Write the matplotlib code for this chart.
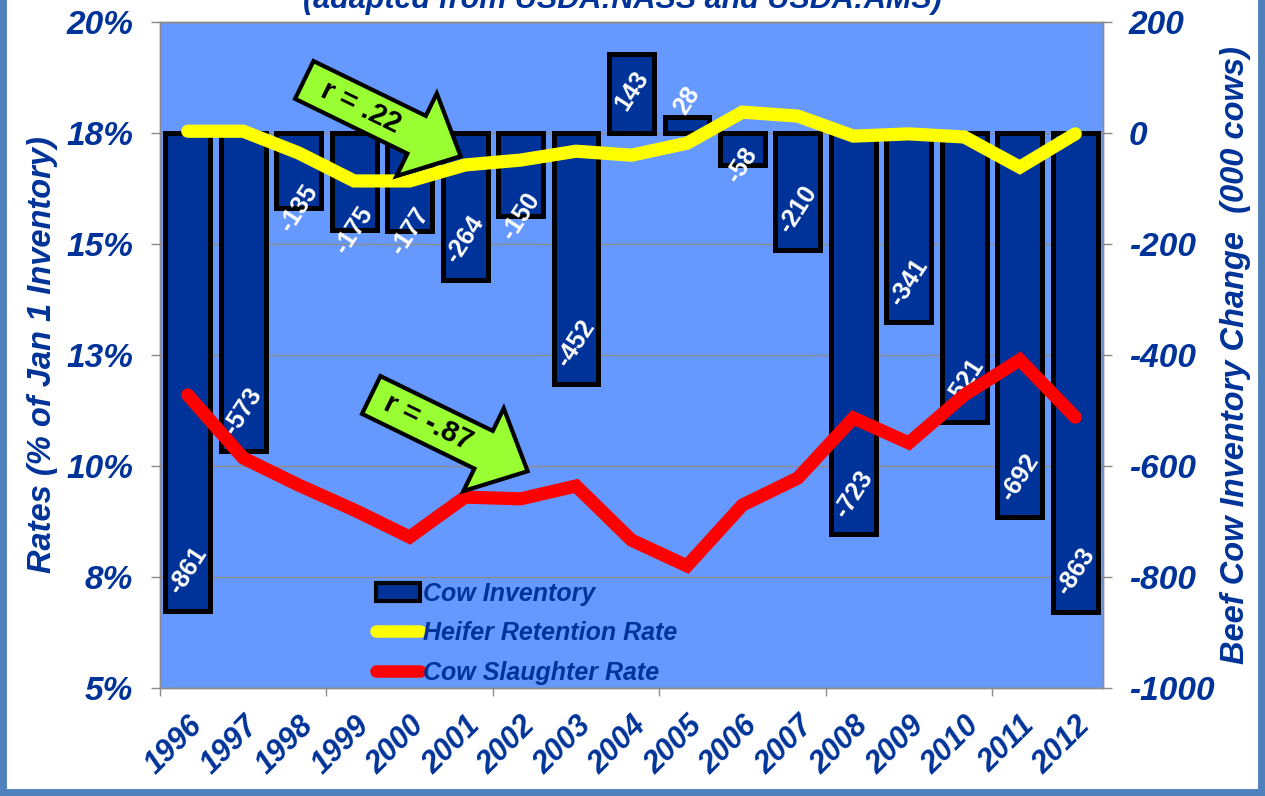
import numpy as np
import matplotlib.pyplot as plt
import matplotlib.transforms as mtransforms
from matplotlib.patches import Polygon, Patch, Rectangle
from matplotlib.lines import Line2D
from matplotlib import font_manager

years = [str(y) for y in range(1996, 2013)]
cow_inventory = [-861, -573, -135, -175, -177, -264, -150, -452, 143, 28,
                 -58, -210, -723, -341, -521, -692, -863]
heifer_retention = [17.54, 17.54, 17.05, 16.42, 16.42, 16.78, 16.89, 17.09, 17.0,
                    17.27, 17.97, 17.88, 17.43, 17.48, 17.41, 16.73, 17.48]
cow_slaughter = [11.60, 10.18, 9.57, 9.01, 8.40, 9.30, 9.26, 9.55, 8.33,
                 7.75, 9.12, 9.73, 11.08, 10.52, 11.60, 12.39, 11.10]
rate_ticks = [5, 7.5, 10, 12.5, 15, 17.5, 20]
rate_labels = ['5%', '8%', '10%', '13%', '15%', '18%', '20%']
inv_ticks = [-1000, -800, -600, -400, -200, 0, 200]
series_names = ['Cow Inventory', 'Heifer Retention Rate', 'Cow Slaughter Rate']

BLUE = '#003399'
BG = '#6699FF'
GREY = '#8c8c8c'

plt.rcParams['font.family'] = ['Liberation Sans', 'DejaVu Sans']
names = {f.name for f in font_manager.fontManager.ttflist}
bi = dict(fontweight='bold', fontstyle='italic', color=BLUE)

fig = plt.figure(figsize=(12.65, 7.96), dpi=100)
axb = fig.add_axes([160 / 1265, 108 / 796, 943 / 1265, 666 / 796])
axl = axb.twinx()

x = np.arange(len(years))

# bars (right axis)
axb.set_facecolor(BG)
axb.bar(x, cow_inventory, width=0.81, color=BLUE, edgecolor='black', linewidth=3.6, zorder=2)
axb.set_ylim(-1000, 200)
axb.set_xlim(-0.5, len(years) - 0.5)
axb.set_yticks(inv_ticks, [str(v) for v in inv_ticks], fontsize=24, **bi)
axb.yaxis.tick_right()
axb.yaxis.set_label_position('right')
axb.set_axisbelow(True)
axb.grid(axis='y', color=GREY, lw=1)

for xi, v in zip(x, cow_inventory):
    if v <= -200:
        off = 29
    elif v >= 100:
        off = -27
    elif v > 0:
        off = 12
    else:
        off = 0
    axb.annotate(str(v), (xi, v), xytext=(0, off), textcoords='offset points',
                 ha='center', va='center', rotation=57, rotation_mode='anchor',
                 color='white', fontsize=18, fontweight='bold', zorder=3)

# x axis: boundary ticks every 3 years, labels on every year
axb.set_xticks([-0.5, 2.5, 5.5, 8.5, 11.5, 14.5], [])
axb.set_xticks(x, years, minor=True, rotation=45, ha='right', va='top',
               rotation_mode='anchor', fontsize=22, **bi)
axb.tick_params(axis='x', which='minor', length=0, pad=16)
axb.tick_params(axis='x', which='major', length=6, color=GREY, width=1)
axb.tick_params(axis='y', length=6.5, color=GREY, width=1, pad=12)

if 'Liberation Sans Narrow' in names:
    axb.set_ylabel('Beef Cow Inventory Change  (000 cows)', family='Liberation Sans Narrow',
                   fontsize=28, rotation=90, labelpad=6, **bi)
else:
    axb.set_ylabel('Beef Cow Inventory Change  (000 cows)', fontsize=23.5,
                   rotation=90, labelpad=4, **bi)

# lines (left axis)
axl.plot(x, heifer_retention, color='#FFFF00', lw=9.5, solid_capstyle='round',
         solid_joinstyle='miter', zorder=3)
axl.plot(x, cow_slaughter, color='#FF0000', lw=9.5, solid_capstyle='round',
         solid_joinstyle='miter', zorder=3)
axl.set_ylim(5, 20)
axl.set_yticks(rate_ticks, rate_labels, fontsize=24, **bi)
axl.yaxis.tick_left()
axl.yaxis.set_label_position('left')
axl.tick_params(axis='y', length=6.5, color=GREY, width=1, pad=13)
axl.set_ylabel('Rates (% of Jan 1 Inventory)', fontsize=23.5, labelpad=6, **bi)

for a in (axb, axl):
    for s in a.spines.values():
        s.set_color(GREY)
        s.set_linewidth(1)

handles = [Patch(facecolor=BLUE, edgecolor='black', linewidth=3),
           Line2D([], [], color='#FFFF00', lw=9, solid_capstyle='round'),
           Line2D([], [], color='#FF0000', lw=9, solid_capstyle='round')]
axl.legend(handles, series_names, loc='lower left', bbox_to_anchor=(0.229, 0.005),
           frameon=False, prop=dict(size=18, weight='bold', style='italic'),
           labelcolor=BLUE, handlelength=1.75, handletextpad=0.15,
           labelspacing=0.62, borderpad=0, borderaxespad=0)


def callout(ax, xa, ya, text, angle=-26):
    # green arrow drawn in pixels around a point given in axes fraction
    tr = mtransforms.Affine2D().rotate_deg(angle) + \
        mtransforms.ScaledTranslation(xa, ya, ax.transAxes)
    shape = [(0, 21), (125, 21), (125, 46), (174, 0), (125, -46), (125, -21), (0, -21)]
    ax.add_patch(Polygon(shape, closed=True, transform=tr, facecolor='#99FF33',
                         edgecolor='black', lw=3, joinstyle='miter', zorder=10, clip_on=False))
    ax.text(63, 0, text, transform=tr, rotation=angle, rotation_mode='anchor',
            ha='center', va='center', fontsize=21, fontweight='bold', color='black', zorder=11)


callout(axl, 0.153, 0.913, 'r = .22')
callout(axl, 0.224, 0.44, 'r = -.87')

fig.text(0.492, (796 - 8) / 796, '(adapted from USDA:NASS and USDA:AMS)',
         ha='center', va='baseline', fontsize=22, **bi)

fig.add_artist(Rectangle((0, 0), 1, 1.5, transform=fig.transFigure, fill=False,
                         edgecolor='#4F81BD', lw=10))

fig.savefig('out.png', dpi=100)
